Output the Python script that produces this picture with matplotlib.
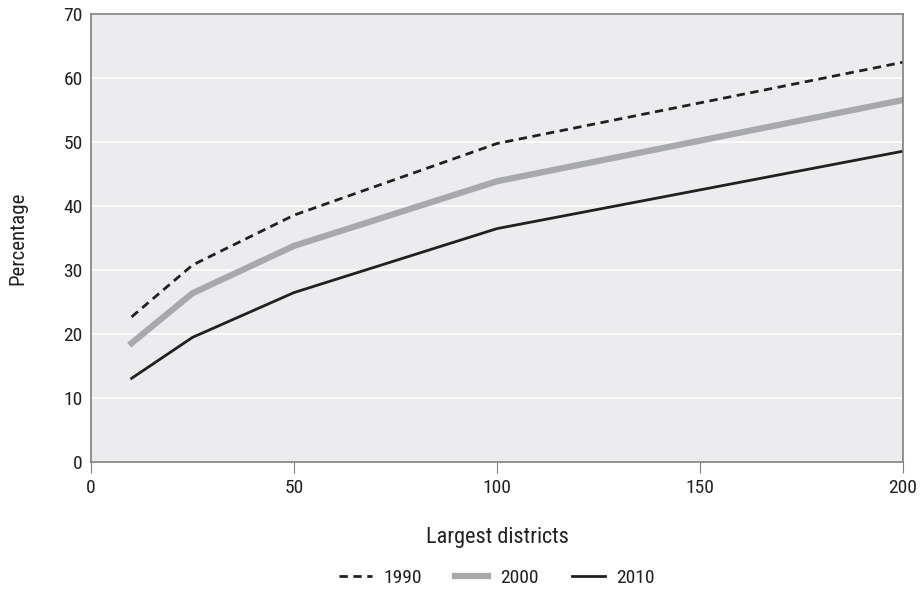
import matplotlib
matplotlib.use("Agg")
import matplotlib.pyplot as plt
from matplotlib import font_manager

districts = [10, 25, 50, 100, 200]
pct_1990 = [22.7, 30.8, 38.6, 49.8, 62.5]
pct_2000 = [18.6, 26.4, 33.8, 43.9, 56.6]
pct_2010 = [13.1, 19.5, 26.5, 36.5, 48.6]

# narrow face closest to the condensed sans of the original
names = {f.name for f in font_manager.fontManager.ttflist}
fam = "DejaVu Sans"
for cand in ["Roboto Condensed", "Liberation Sans Narrow", "DejaVu Sans"]:
    if cand in names:
        fam = cand
        break
plt.rcParams['font.family'] = [fam, 'DejaVu Sans']

ink = "#231f20"
fig = plt.figure(figsize=(9.22, 5.94), dpi=100)
ax = fig.add_axes([0.0987, 0.222, 0.8807, 0.754])
ax.set_facecolor("#ececee")

ax.plot(districts, pct_1990, color=ink, lw=2, ls=(0, (3, 2)), label="1990")
ax.plot(districts, pct_2000, color="#a7a9ac", lw=4.5, label="2000")
ax.plot(districts, pct_2010, color=ink, lw=2, label="2010")

ax.set_xlim(0, 200)
ax.set_ylim(0, 70)
ax.set_xticks([0, 50, 100, 150, 200])
ax.set_yticks(range(0, 71, 10))
ax.yaxis.grid(True, color="white", lw=1.2)
ax.set_axisbelow(True)
for s in ax.spines.values():
    s.set_color("#808080")
    s.set_linewidth(1.2)
ax.tick_params(axis="x", direction="out", length=8, color="#808080", labelsize=14,
               labelcolor=ink, pad=4)
ax.tick_params(axis="y", length=0, labelsize=14, labelcolor=ink, pad=6)
ax.set_xlabel("Largest districts", fontsize=16, labelpad=22, color=ink)
ax.set_ylabel("Percentage", fontsize=15, labelpad=26, color=ink)

# legend centred under the plot area, not the figure
leg = ax.legend(loc="upper center", ncol=3, frameon=False, fontsize=14,
                bbox_to_anchor=(0.5, -0.2), handlelength=1.7, handletextpad=0.6,
                columnspacing=1.7)
for t in leg.get_texts():
    t.set_color(ink)

fig.savefig("out.png", dpi=100)
